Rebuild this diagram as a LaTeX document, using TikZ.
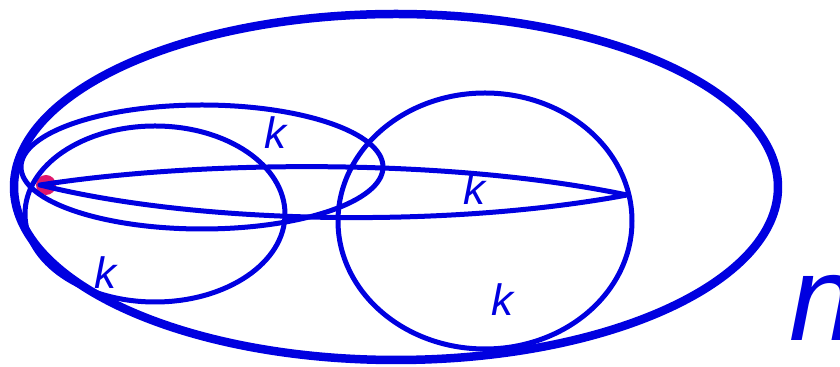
\documentclass[tikz,border=0pt]{standalone}
\usepackage{fontspec}
\setmainfont{Liberation Sans}
\usepackage{xcolor}
\usepackage{tikz}
\definecolor{cB}{HTML}{0000E0}
\definecolor{cP}{HTML}{E0186C}
\tikzset{ring/.style={cB,line width=0.1cm,line cap=round,line join=round},
  outerring/.style={ring,line width=0.17cm},
  lab/.style={cB,inner sep=0pt,font=\fontsize{25}{30}\selectfont\itshape}}

\begin{document}
\begin{tikzpicture}[x=0.02cm,y=-0.02cm]
  \useasboundingbox (0,0) rectangle (840,367);
  % the marked point
  \fill[cP] (46,185) circle (10);
  % outer set
  \draw[outerring] (396,187) ellipse [x radius=382, y radius=173];
  % inner sets
  \draw[ring] (202,167) ellipse [x radius=181, y radius=62];
  \draw[ring] (155,214) ellipse [x radius=130, y radius=88];
  \draw[ring] (40,185) .. controls (200,160) and (450,158) .. (627,195)
    .. controls (450,228) and (200,225) .. (40,185);
  \draw[ring] (485,221) ellipse [x radius=147, y radius=128];
  % labels
  \node[lab] (k1) at (275,133) {k};
  \node[lab] (k2) at (474,189) {k};
  \node[lab] (k3) at (105,273) {k};
  \node[lab] (k4) at (502,300) {k};
  \node[lab,font=\fontsize{69}{80}\selectfont\itshape] (n) at (823,308) {n};
\end{tikzpicture}
\end{document}
